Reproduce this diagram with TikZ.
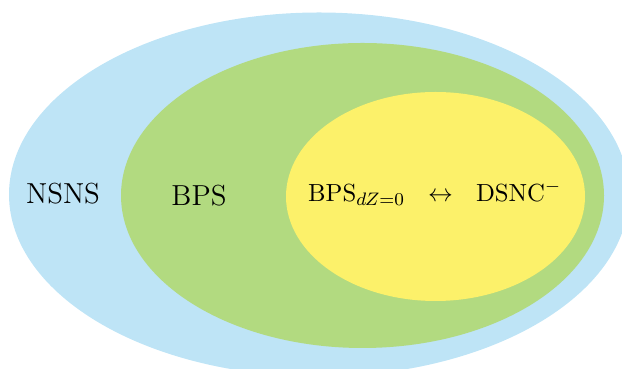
\documentclass[tikz,border=0pt]{standalone}
\usepackage{amsmath}
\usetikzlibrary{positioning}

\definecolor{nsnsblue}{RGB}{190,228,246}
\definecolor{bpsgreen}{RGB}{178,218,128}
\definecolor{dzyellow}{RGB}{252,241,106}

\begin{document}
\begin{tikzpicture}[x=0.4425pt,y=0.4425pt,yscale=-1,xscale=1,
  setlabel/.style={anchor=base,inner sep=0.75pt,font=\fontsize{12.8}{15}\selectfont},
  innerlabel/.style={anchor=base,inner sep=0.75pt,font=\fontsize{11}{13}\selectfont}]
\useasboundingbox (0,0) rectangle (622,369);
\clip (0,0) rectangle (622,369);

%Shape: Ellipse
\fill [nsnsblue] (319,194.5) ellipse [x radius=310, y radius=182];
%Shape: Ellipse
\fill [bpsgreen] (362.5,195.5) ellipse [x radius=241.5, y radius=152.5];
%Shape: Ellipse
\fill [dzyellow] (435.5,196.5) ellipse [x radius=149.5, y radius=104.5];

% Text Node
\node (nsns) [setlabel] at (63,203.3) {NSNS};
% Text Node
\node (bps) [setlabel] at (199,205.7) {BPS};
% Text Node
\node (bpsdz) [innerlabel] at (434.7,201.5) {$\mathrm{BPS}_{dZ=0}\ \ \leftrightarrow\ \ \mathrm{DSNC}^{-}$};

\end{tikzpicture}
\end{document}
